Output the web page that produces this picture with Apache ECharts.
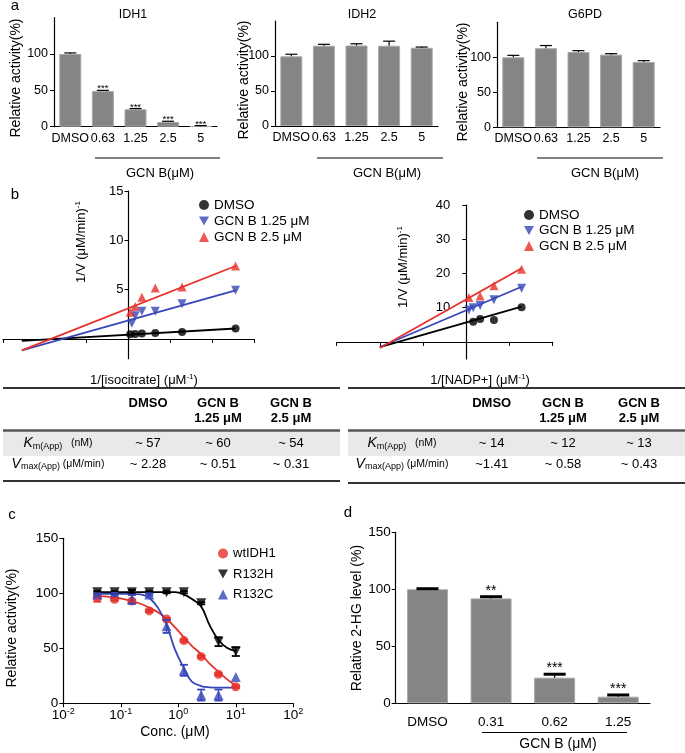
<!DOCTYPE html>
<html>
<head>
<meta charset="utf-8">
<script src="https://cdn.jsdelivr.net/npm/echarts@6/dist/echarts.min.js"></script>
<style>
  html, body { margin: 0; padding: 0; background: #fff; }
  #chart { width: 685px; height: 753px; }
</style>
</head>
<body>
<div id="chart"></div>
<script>
const FONT = "'Liberation Sans', Arial, sans-serif";
const RED = "#e6302a";
const BLUE = "#3646b8";
const TRI_DOWN = "path://M0,0 L10,0 L5,9 Z";

// panel a
const catsA = ["DMSO", "0.63", "1.25", "2.5", "5"];
const idh1Vals = [100, 49, 24, 6.5, 0.5];
const idh1Err = [1.5, 1, 1, 1, 1];
const idh1Stars = ["", "***", "***", "***", "***"];
const idh2Vals = [99.5, 114.7, 115, 114.7, 111.8];
const idh2Err = [3, 2, 2.5, 6.5, 1];
const g6pdVals = [100, 113, 107.6, 103.8, 93.3];
const g6pdErr = [2.8, 3.8, 1.9, 1.4, 1.9];

// panel b, left: 1/[isocitrate]
const isoX = [0.04, 0.16, 0.32, 0.64, 1.28, 2.56];
const isoDmso = [0.48, 0.5, 0.55, 0.6, 0.7, 1.06];
const isoLowX = [0.08, 0.16, 0.32, 0.64, 1.28, 2.56];
const isoLow = [1.6, 2.36, 2.8, 2.8, 3.56, 4.93];
const isoHigh = [2.7, 3.3, 4.24, 5.16, 5.27, 7.4];
const isoFitX = [-2.55, 2.56];
const isoFitDmso = [-0.2, 1.06];
const isoFitLow = [-1.16, 4.93];
const isoFitHigh = [-1.16, 7.4];

// panel b, right: 1/[NADP+]
const nadpDmsoX = [0.16, 0.32, 0.64, 1.28];
const nadpDmso = [5.9, 6.7, 6.4, 10.1];
const nadpLowX = [0.06, 0.16, 0.32, 0.64, 1.28];
const nadpLow = [9.3, 10.0, 10.6, 12.3, 15.7];
const nadpHighX = [0.06, 0.32, 0.64, 1.28];
const nadpHigh = [13.0, 13.4, 16.4, 21.2];
const nadpFitX = [-2.0, 1.28];
const nadpFitDmso = [-1.5, 10.3];
const nadpFitLow = [-1.5, 16.1];
const nadpFitHigh = [-1.8, 21.5];

// kinetic tables
const tableCols = ["DMSO", "GCN B\n1.25 μM", "GCN B\n2.5 μM"];
const isoKm = ["~ 57", "~ 60", "~ 54"];
const isoVmax = ["~ 2.28", "~ 0.51", "~ 0.31"];
const nadpKm = ["~ 14", "~ 12", "~ 13"];
const nadpVmax = ["~1.41", "~ 0.58", "~ 0.43"];

// panel c
const concX = [0.039, 0.078, 0.156, 0.3125, 0.625, 1.25, 2.5, 5, 10];
const wtVals = [96, 94.5, 93, 84, 76.6, 57, 42.4, 26.4, 15];
const wtErr = [3.6, 1, 1, 1, 1, 1, 1, 1, 1];
const hVals = [101, 101, 101, 101, 101, 101, 91, 56, 47];
const hErr = [1, 1, 2, 1, 1, 1, 1, 4, 4];
const cVals = [99, 99.5, 94.5, 99, 70, 30, 7.5, 7.5, 24];
const cErr = [1, 1, 4, 1, 6, 5, 5, 5, 0];
const fitX = [0.04, 0.078, 0.156, 0.22, 0.31, 0.45, 0.63, 0.88, 1.25, 1.7, 2.5, 3.5, 5, 7, 10];
const wtFit = [97.5, 96.3, 93, 90.5, 87, 82.5, 76.6, 69, 60, 52.5, 44.5, 36, 28.7, 22, 16];
const hFit = [101, 101, 101, 101, 101, 101, 101, 101, 99, 95, 88, 71, 57.5, 50.5, 47.5];
const cFit = [99.5, 99.5, 99.5, 99, 96, 86.3, 71, 48.5, 32, 20, 15.7, 14.5, 14.2, 14.2, 14.2];

// panel d
const catsD = ["DMSO", "0.31", "0.62", "1.25"];
const hgVals = [100, 92, 22.5, 5.8];
const hgErr = [0.5, 1.5, 3, 1.5];
const hgStars = ["", "**", "***", "***"];

const chart = echarts.init(document.getElementById("chart"));

const zip = (xs, ys) => xs.map((x, i) => [x, ys[i]]);
const black = { color: "#000" };

function catAxis(grid, data, fontSize, margin) {
  return {
    gridIndex: grid, type: "category", data: data,
    axisLine: { lineStyle: { color: "#000", width: 1.2 } },
    axisTick: { alignWithLabel: true, length: 4, lineStyle: black },
    axisLabel: { interval: 0, color: "#000", fontSize: fontSize, fontFamily: FONT, margin: margin }
  };
}
function valAxis(grid, min, max, labels, ticks, fontSize, margin, extra) {
  return Object.assign({
    gridIndex: grid, type: "value", min: min, max: max,
    splitLine: { show: false },
    axisLine: { show: true, lineStyle: { color: "#000", width: 1.2 } },
    axisTick: { show: true, length: 4, customValues: ticks, lineStyle: black },
    axisLabel: { customValues: labels, color: "#000", fontSize: fontSize, fontFamily: FONT, margin: margin }
  }, extra || {});
}

// error bars (with optional significance stars) through the axes' own scales
function errSeries(x, y, data, opt) {
  return {
    type: "custom", xAxisIndex: x, yAxisIndex: y, data: data, z: 5,
    renderItem: function (params, api) {
      const v = api.value(1), e = api.value(2);
      const top = api.coord([api.value(0), v + e]);
      const bot = api.coord([api.value(0), opt.both ? v - e : v]);
      const hw = opt.cap / 2;
      const st = { stroke: opt.color || "#000", lineWidth: 1.2 };
      const kids = [];
      if (e > 0) {
        kids.push({ type: "line", shape: { x1: top[0], y1: top[1], x2: bot[0], y2: bot[1] }, style: st });
        kids.push({ type: "line", shape: { x1: top[0] - hw, y1: top[1], x2: top[0] + hw, y2: top[1] },
          style: { stroke: opt.color || "#000", lineWidth: opt.capW || 1.2 } });
        if (opt.both) kids.push({ type: "line", shape: { x1: bot[0] - hw, y1: bot[1], x2: bot[0] + hw, y2: bot[1] },
          style: { stroke: opt.color || "#000", lineWidth: opt.capW || 1.2 } });
      }
      if (opt.stars && opt.stars[params.dataIndex]) {
        kids.push({ type: "text", style: { text: opt.stars[params.dataIndex], x: top[0], y: top[1] - opt.starGap,
          align: "center", verticalAlign: "middle", fontSize: opt.starSize, fontFamily: FONT,
          fontWeight: opt.starWeight || "normal", fill: "#000" } });
      }
      return { type: "group", children: kids };
    }
  };
}

function barSeries(x, y, vals, width) {
  return { type: "bar", xAxisIndex: x, yAxisIndex: y, data: vals, barWidth: width,
    itemStyle: { color: "#858585", borderColor: "#a8a8a8", borderWidth: 1 }, silent: true };
}
const barErr = (vals, errs) => vals.map((v, i) => [i, v, errs[i]]);
const ptErr = (xs, vals, errs) => xs.map((x, i) => [x, vals[i], errs[i]]);

function scatter(name, x, y, data, symbol, color, size) {
  return { type: "scatter", name: name, xAxisIndex: x, yAxisIndex: y, data: data, symbol: symbol,
    symbolSize: size, itemStyle: { color: color }, z: 4 };
}
function fitLine(x, y, data, color, smooth) {
  return { type: "line", xAxisIndex: x, yAxisIndex: y, data: data, symbol: "none", smooth: smooth || false,
    lineStyle: { color: color, width: 1.8 }, z: 3, silent: true };
}

const legendText = { color: "#000", fontSize: 13.5, fontFamily: FONT };
const bNames = ["DMSO", "GCN B 1.25 μM", "GCN B 2.5 μM"];

// ----- graphic: titles, axis titles, underlines, tables -----
const g = [];
function txt(x, y, s, size, extra) {
  g.push({ type: "text", x: x, y: y, rotation: (extra && extra.rot) || 0,
    style: Object.assign({ text: s, fontSize: size, fontFamily: FONT, fill: "#000", align: "center", verticalAlign: "middle" },
      extra && extra.style) });
}
function hline(x1, x2, y, w, color) {
  g.push({ type: "line", shape: { x1: x1, y1: y, x2: x2, y2: y }, style: { stroke: color || "#000", lineWidth: w || 1 } });
}
const R = Math.PI / 2;
txt(15, 6, "a", 15);
txt(15, 195, "b", 15);
txt(12, 515, "c", 15);
txt(348, 513, "d", 15);
txt(133, 15, "IDH1", 12.5);
txt(362, 15, "IDH2", 12.5);
txt(585, 15, "G6PD", 12.5);
txt(16, 78, "Relative activity(%)", 14, { rot: R });
txt(244, 80, "Relative activity(%)", 14, { rot: R });
txt(463, 82, "Relative activity(%)", 14, { rot: R });
hline(95, 220, 158); hline(317, 443, 158); hline(537, 663, 158);
txt(160, 173, "GCN B(μM)", 13);
txt(387, 173, "GCN B(μM)", 13);
txt(605, 173, "GCN B(μM)", 13);

const supRich = { n: { fontSize: 13, fontFamily: FONT, lineHeight: 15 }, s: { fontSize: 8, fontFamily: FONT, verticalAlign: "top", lineHeight: 9 } };
txt(81, 242, "{n|1/V (μM/min)}{s|-1}", 13, { rot: R, style: { rich: supRich } });
txt(403, 267, "{n|1/V (μM/min)}{s|-1}", 13, { rot: R, style: { rich: supRich } });
txt(144, 380, "{n|1/[isocitrate] (μM}{s|-1}{n|)}", 13, { style: { rich: supRich } });
txt(480, 380, "{n|1/[NADP+] (μM}{s|-1}{n|)}", 13, { style: { rich: supRich } });

const subRich = {
  i: { fontSize: 14, fontStyle: "italic", fontFamily: FONT, lineHeight: 15 },
  s: { fontSize: 9, fontFamily: FONT, verticalAlign: "bottom", lineHeight: 9 },
  n: { fontSize: 10.5, fontFamily: FONT, lineHeight: 15 }
};
function table(x1, x2, labelX, colXs, km, vmax, bottomY) {
  g.push({ type: "rect", shape: { x: x1, y: 431, width: x2 - x1, height: 25 }, style: { fill: "#e9e9e9" } });
  hline(x1, x2, 388, 2, "#333");
  hline(x1, x2, 430.5, 2.5, "#555");
  hline(x1, x2, bottomY, 2, "#333");
  tableCols.forEach((c, i) => {
    g.push({ type: "text", x: colXs[i], y: 396, style: { text: c, fontSize: 13, fontWeight: "bold", fontFamily: FONT,
      fill: "#000", align: "center", verticalAlign: "top", lineHeight: 15 } });
    txt(colXs[i], 443.5, km[i], 13);
    txt(colXs[i], 464, vmax[i], 13);
  });
  txt(labelX, 443.5, "{i|K}{s|m(App)}{n|   (nM)}", 13, { style: { rich: subRich } });
  txt(labelX, 464, "{i|V}{s|max(App)}{n| (μM/min)}", 13, { style: { rich: subRich } });
}
table(3, 340, 58, [148, 218, 291], isoKm, isoVmax, 481);
table(348, 685, 402, [491.7, 563, 639], nadpKm, nadpVmax, 483);

txt(12, 628, "Relative activity(%)", 14, { rot: R });
txt(175, 732, "Conc. (μM)", 14);
txt(357, 618, "Relative 2-HG level (%)", 14, { rot: R });
hline(482, 627, 732.5);
txt(558, 744, "GCN B (μM)", 14);

const logRich = { b: { fontSize: 13.5, fontFamily: FONT, color: "#000", lineHeight: 15 },
  s: { fontSize: 9, fontFamily: FONT, color: "#000", verticalAlign: "top", lineHeight: 9 } };

const option = {
  animation: false,
  textStyle: { fontFamily: FONT },
  grid: [
    { left: 54, top: 17.7, width: 163, height: 109, outerBoundsMode: "none" },
    { left: 275, top: 21, width: 163, height: 105, outerBoundsMode: "none" },
    { left: 497, top: 22.3, width: 163, height: 105, outerBoundsMode: "none" },
    { left: 3, top: 191, width: 251, height: 167.7, outerBoundsMode: "none" },
    { left: 336.7, top: 205, width: 216, height: 154, outerBoundsMode: "none" },
    { left: 63.3, top: 538.3, width: 230, height: 165, outerBoundsMode: "none" },
    { left: 395.7, top: 532.3, width: 254.3, height: 171, outerBoundsMode: "none" }
  ],
  xAxis: [
    catAxis(0, catsA, 12.5, 5),
    catAxis(1, catsA, 12.5, 5),
    catAxis(2, catsA, 12.5, 5),
    valAxis(3, -3, 3, [], [-3, -1, 0, 1, 2, 3], 12, 5, { interval: 1, axisLabel: { show: false },
      axisLine: { onZero: true, lineStyle: { color: "#000", width: 1.2 } } }),
    valAxis(4, -3, 2, [], [-3, -2, -1, 0, 1, 2], 12, 5, { interval: 1, axisLabel: { show: false },
      axisLine: { onZero: true, lineStyle: { color: "#000", width: 1.2 } } }),
    {
      gridIndex: 5, type: "log", logBase: 10, min: 0.01, max: 100,
      splitLine: { show: false }, minorTick: { show: false },
      axisLine: { lineStyle: { color: "#000", width: 1.2 } },
      axisTick: { length: 4, lineStyle: black },
      axisLabel: { margin: 4, formatter: v => "{b|10}{s|" + Math.round(Math.log10(v)) + "}", rich: logRich }
    },
    catAxis(6, catsD, 13.5, 12)
  ],
  yAxis: [
    valAxis(0, 0, 150, [0, 50, 100], [0, 50, 100], 12.5, 6, { interval: 50 }),
    valAxis(1, 0, 150, [0, 50, 100], [0, 50, 100], 12.5, 6, { interval: 50 }),
    valAxis(2, 0, 150, [0, 50, 100], [0, 50, 100], 12.5, 6, { interval: 50 }),
    // y axes of the double-reciprocal plots sit at x = 0 (3 units in from the grid's left edge)
    valAxis(3, -2, 15, [5, 10, 15], [5, 10, 15], 13, 5, { offset: -125.5,
      axisLine: { show: true, onZero: false, lineStyle: { color: "#000", width: 1.2 } } }),
    valAxis(4, -5, 40, [10, 20, 30, 40], [10, 20, 30, 40], 13, 16, { offset: -129.6,
      axisLine: { show: true, onZero: false, lineStyle: { color: "#000", width: 1.2 } } }),
    valAxis(5, 0, 150, [0, 50, 100, 150], [0, 50, 100, 150], 13.5, 5, { interval: 50 }),
    valAxis(6, 0, 150, [0, 50, 100, 150], [0, 50, 100, 150], 13.5, 5, { interval: 50 })
  ],
  legend: [
    { orient: "vertical", left: 194, top: 193, itemWidth: 10, itemHeight: 10, itemGap: 2, textStyle: legendText, data: bNames },
    { orient: "vertical", left: 519, top: 203, itemWidth: 10, itemHeight: 10, itemGap: 1.5, textStyle: legendText, data: bNames },
    { orient: "vertical", left: 213, top: 542, itemWidth: 10, itemHeight: 10, itemGap: 7.5,
      textStyle: Object.assign({}, legendText, { fontSize: 13 }), data: ["wtIDH1", "R132H", "R132C"] }
  ],
  graphic: g,
  series: [
    barSeries(0, 0, idh1Vals, 22),
    errSeries(0, 0, barErr(idh1Vals, idh1Err), { cap: 12, stars: idh1Stars, starGap: 1.5, starSize: 9.5 }),
    barSeries(1, 1, idh2Vals, 22),
    errSeries(1, 1, barErr(idh2Vals, idh2Err), { cap: 12 }),
    barSeries(2, 2, g6pdVals, 22),
    errSeries(2, 2, barErr(g6pdVals, g6pdErr), { cap: 12 }),

    fitLine(3, 3, zip(isoFitX, isoFitDmso), "#000"),
    fitLine(3, 3, zip(isoFitX, isoFitLow), BLUE),
    fitLine(3, 3, zip(isoFitX, isoFitHigh), RED),
    scatter(bNames[0], 3, 3, zip(isoX, isoDmso), "circle", "#000", 8),
    scatter(bNames[1], 3, 3, zip(isoLowX, isoLow), TRI_DOWN, BLUE, 9),
    scatter(bNames[2], 3, 3, zip(isoX, isoHigh), "triangle", RED, 9),

    fitLine(4, 4, zip(nadpFitX, nadpFitDmso), "#000"),
    fitLine(4, 4, zip(nadpFitX, nadpFitLow), BLUE),
    fitLine(4, 4, zip(nadpFitX, nadpFitHigh), RED),
    scatter(bNames[0], 4, 4, zip(nadpDmsoX, nadpDmso), "circle", "#000", 8),
    scatter(bNames[1], 4, 4, zip(nadpLowX, nadpLow), TRI_DOWN, BLUE, 9),
    scatter(bNames[2], 4, 4, zip(nadpHighX, nadpHigh), "triangle", RED, 9),

    fitLine(5, 5, zip(fitX, wtFit), RED, 0.4),
    fitLine(5, 5, zip(fitX, hFit), "#000", 0.4),
    fitLine(5, 5, zip(fitX, cFit), BLUE, 0.4),
    errSeries(5, 5, ptErr(concX, wtVals, wtErr), { cap: 8, both: true, color: RED, capW: 1.8 }),
    errSeries(5, 5, ptErr(concX, hVals, hErr), { cap: 8, both: true, color: "#000", capW: 1.8 }),
    errSeries(5, 5, ptErr(concX, cVals, cErr), { cap: 8, both: true, color: BLUE, capW: 1.8 }),
    scatter("wtIDH1", 5, 5, zip(concX, wtVals), "circle", RED, 9),
    scatter("R132H", 5, 5, zip(concX, hVals), TRI_DOWN, "#000", 10),
    scatter("R132C", 5, 5, zip(concX, cVals), "triangle", BLUE, 10),

    barSeries(6, 6, hgVals, 41),
    errSeries(6, 6, barErr(hgVals, hgErr), { cap: 22, capW: 3, stars: hgStars, starGap: 6, starSize: 14 })
  ]
};

chart.setOption(option);
</script>
</body>
</html>
